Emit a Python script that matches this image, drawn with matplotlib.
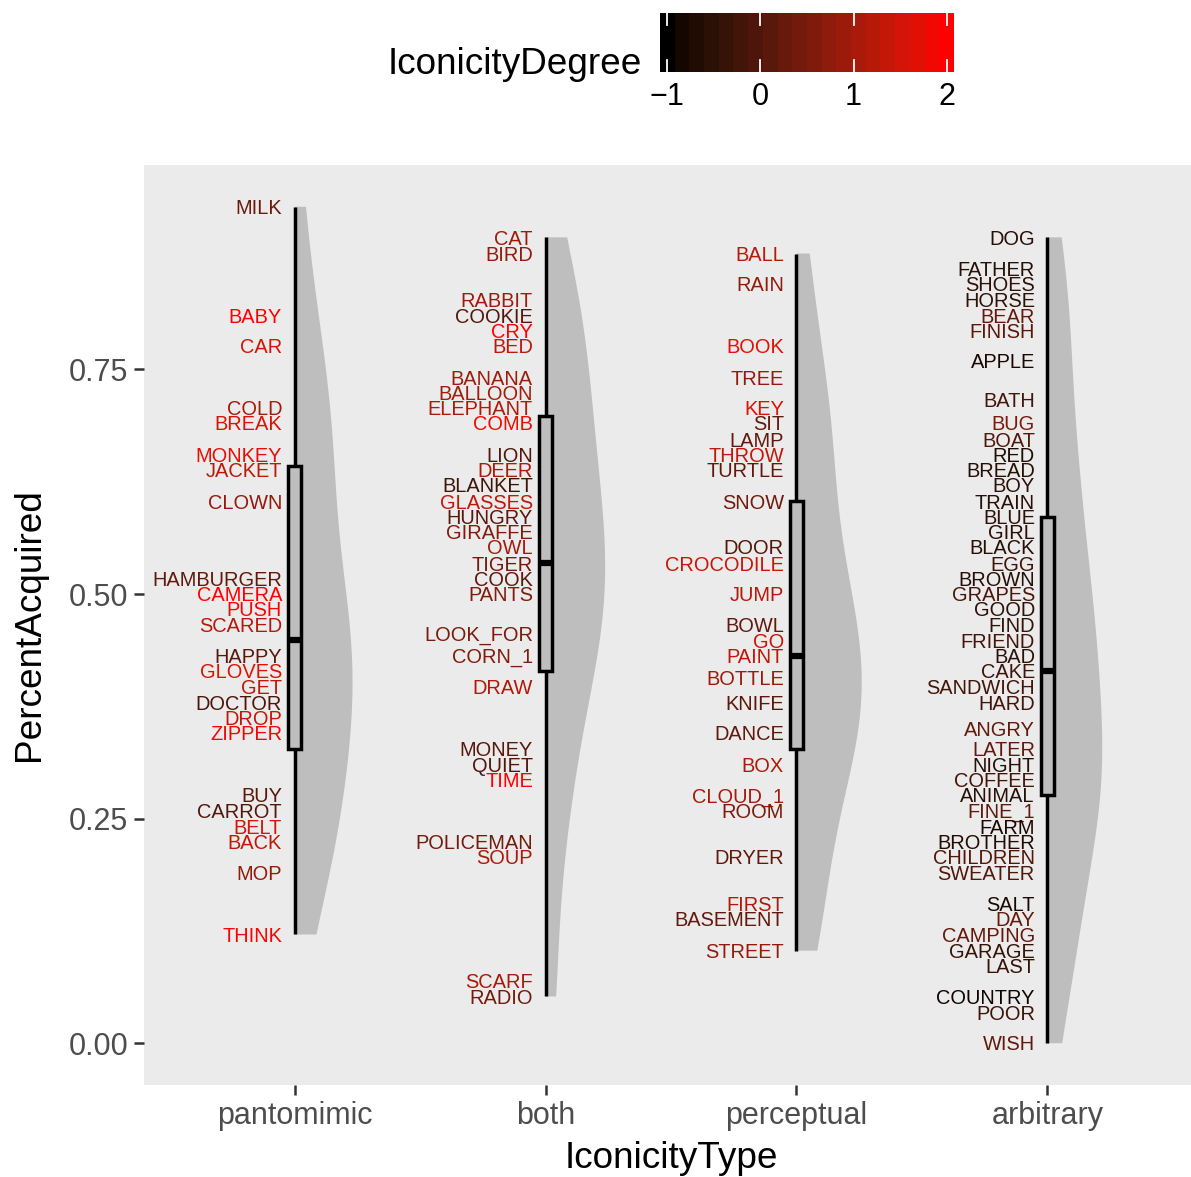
import numpy as np
import matplotlib
matplotlib.use("Agg")
import matplotlib.pyplot as plt

plt.rcParams['font.family'] = ['Liberation Sans', 'DejaVu Sans']

# ---------------- data ----------------
categories = ["pantomimic", "both", "perceptual", "arbitrary"]

pantomimic_words = ["MILK", "BABY", "CAR", "COLD", "BREAK", "MONKEY", "JACKET", "CLOWN",
                    "HAMBURGER", "CAMERA", "PUSH", "SCARED", "HAPPY", "GLOVES", "GET", "DOCTOR",
                    "DROP", "ZIPPER", "BUY", "CARROT", "BELT", "BACK", "MOP", "THINK"]
pantomimic_acquired = [0.931, 0.810, 0.776, 0.707, 0.690, 0.655, 0.638, 0.603,
                       0.517, 0.500, 0.483, 0.466, 0.431, 0.414, 0.397, 0.379,
                       0.362, 0.345, 0.276, 0.259, 0.241, 0.224, 0.190, 0.121]
pantomimic_degree = [0.3, 2.0, 1.5, 1.0, 1.6, 1.7, 1.3, 0.8,
                     0.2, 2.0, 1.9, 1.2, 0.1, 1.6, 1.3, -0.1,
                     1.4, 1.9, 0.1, 0.0, 1.5, 1.3, 0.8, 1.9]
pantomimic_hidden = []   # words whose labels are hidden by overlapping labels

both_words = ["CAT", "BIRD", "RABBIT", "COOKIE", "CRY", "BED", "BANANA", "BALLOON", "ELEPHANT",
              "COMB", "LION", "DEER", "BLANKET", "GLASSES", "HUNGRY", "GIRAFFE", "OWL", "TIGER",
              "COOK", "PANTS", "LOOK_FOR", "CORN_1", "DRAW", "MONEY", "QUIET", "TIME",
              "POLICEMAN", "SOUP", "SCARF", "RADIO"]
both_acquired = [0.897, 0.879, 0.828, 0.810, 0.793, 0.776, 0.741, 0.724, 0.707,
                 0.690, 0.655, 0.638, 0.621, 0.603, 0.586, 0.569, 0.552, 0.534,
                 0.517, 0.500, 0.456, 0.431, 0.397, 0.328, 0.310, 0.293,
                 0.224, 0.207, 0.069, 0.052]
both_degree = [0.9, 0.8, 0.9, 0.0, 2.0, 1.3, 0.9, 1.0, 1.1,
               1.8, 0.0, 1.1, -0.3, 1.3, 0.1, 0.6, 1.0, 0.4,
               0.1, 0.6, 0.5, 0.6, 1.1, 0.1, 0.0, 2.0,
               0.4, 1.1, 1.0, 0.4]
both_hidden = [0.397, 0.431, 0.448, 0.500, 0.517]

perceptual_words = ["BALL", "RAIN", "BOOK", "TREE", "KEY", "SIT", "LAMP", "THROW", "TURTLE",
                    "SNOW", "DOOR", "CROCODILE", "JUMP", "BOWL", "GO", "PAINT", "BOTTLE",
                    "KNIFE", "DANCE", "BOX", "CLOUD_1", "ROOM", "DRYER", "FIRST", "BASEMENT",
                    "STREET"]
perceptual_acquired = [0.879, 0.845, 0.776, 0.741, 0.707, 0.690, 0.672, 0.655, 0.638,
                       0.603, 0.552, 0.534, 0.500, 0.466, 0.448, 0.431, 0.407,
                       0.379, 0.345, 0.310, 0.276, 0.259, 0.207, 0.155, 0.138,
                       0.103]
perceptual_degree = [1.2, 0.8, 1.7, 0.8, 1.6, 0.2, 0.2, 1.3, 0.2,
                     0.4, 0.0, 1.4, 1.2, 0.2, 1.4, 1.3, 0.9,
                     0.1, 0.2, 1.1, 1.0, 0.5, 0.2, 1.1, 0.2,
                     0.8]
perceptual_hidden = [0.138, 0.276, 0.328, 0.345, 0.362, 0.379, 0.397, 0.414,
                     0.466, 0.500, 0.534]

arbitrary_words = ["DOG", "FATHER", "SHOES", "HORSE", "BEAR", "FINISH", "APPLE", "BATH", "BUG",
                   "BOAT", "RED", "BREAD", "BOY", "TRAIN", "BLUE", "GIRL", "BLACK", "EGG",
                   "BROWN", "GRAPES", "GOOD", "FIND", "FRIEND", "BAD", "CAKE", "SANDWICH",
                   "HARD", "ANGRY", "LATER", "NIGHT", "COFFEE", "ANIMAL", "FINE_1", "FARM",
                   "BROTHER", "CHILDREN", "SWEATER", "SALT", "DAY", "CAMPING", "GARAGE",
                   "LAST", "COUNTRY", "POOR", "WISH"]
arbitrary_acquired = [0.897, 0.862, 0.845, 0.828, 0.810, 0.793, 0.759, 0.716, 0.690,
                      0.672, 0.655, 0.638, 0.621, 0.603, 0.586, 0.569, 0.552, 0.534,
                      0.517, 0.500, 0.483, 0.466, 0.448, 0.431, 0.414, 0.397,
                      0.379, 0.350, 0.328, 0.310, 0.293, 0.276, 0.259, 0.241,
                      0.224, 0.207, 0.190, 0.155, 0.138, 0.121, 0.103,
                      0.086, 0.052, 0.034, 0.000]
arbitrary_degree = [-0.6, -0.6, -0.5, -0.5, 0.2, 0.1, -0.8, -0.2, 0.5,
                    0.0, -0.7, -0.6, -0.5, -0.6, -0.5, -0.6, -0.6, -0.3,
                    -0.6, -0.1, -0.5, -0.4, -0.2, -0.5, -0.3, -0.2,
                    -0.2, 0.2, 0.2, -0.6, -0.2, -0.6, 0.2, -0.8,
                    -0.7, 0.0, 0.0, -0.8, 0.2, 0.2, -0.4,
                    -0.4, -0.9, -0.3, 0.2]
arbitrary_hidden = [0.155, 0.276, 0.276, 0.293, 0.293, 0.310, 0.310, 0.328,
                    0.431, 0.431, 0.448, 0.466]

degree_limits = [-1, 2]
degree_breaks = [-1, 0, 1, 2]
y_breaks = [0.0, 0.25, 0.50, 0.75]
y_labels = ["0.00", "0.25", "0.50", "0.75"]

words = [pantomimic_words, both_words, perceptual_words, arbitrary_words]
acquired = [pantomimic_acquired, both_acquired, perceptual_acquired, arbitrary_acquired]
degree = [pantomimic_degree, both_degree, perceptual_degree, arbitrary_degree]
hidden = [pantomimic_hidden, both_hidden, perceptual_hidden, arbitrary_hidden]


# ---------------- colour scale (black -> red, Lab interpolation) ----------------
def _lab_to_rgb(L, a, b):
    fy = (L + 16) / 116.0
    fx = fy + a / 500.0
    fz = fy - b / 200.0
    d = 6 / 29.0

    def finv(t):
        return np.where(t > d, t ** 3, 3 * d * d * (t - 4 / 29.0))
    X = 0.95047 * finv(fx)
    Y = finv(fy)
    Z = 1.08883 * finv(fz)
    M = np.array([[3.2404542, -1.5371385, -0.4985314],
                  [-0.9692660, 1.8760108, 0.0415560],
                  [0.0556434, -0.2040259, 1.0572252]])
    lin = M @ np.array([X, Y, Z])
    lin = np.clip(lin, 0, 1)
    srgb = np.where(lin <= 0.0031308, 12.92 * lin, 1.055 * lin ** (1 / 2.4) - 0.055)
    return tuple(np.clip(srgb, 0, 1))

RED_LAB = np.array([53.2408, 80.0925, 67.2032])


def degree_color(v):
    t = (v - degree_limits[0]) / (degree_limits[1] - degree_limits[0])
    t = min(max(t, 0.0), 1.0)
    L, a, b = RED_LAB * t
    return _lab_to_rgb(L, a, b)


# ---------------- figure ----------------
W, H = 1191, 1177
fig = plt.figure(figsize=(W / 100, H / 100), dpi=100)
fig.patch.set_facecolor('white')

ax = fig.add_axes([144 / W, (H - 1085) / H, (1198 - 144) / W, (1085 - 165) / H])
ax.set_facecolor('#EBEBEB')
for s in ax.spines.values():
    s.set_visible(False)

positions = np.arange(len(categories))
all_vals = [np.array(acquired[i] + hidden[i], dtype=float) for i in range(len(categories))]


def bw_nrd0(x):
    x = np.asarray(x)
    hi = np.std(x, ddof=1)
    q75, q25 = np.percentile(x, [75, 25])
    lo = min(hi, (q75 - q25) / 1.34)
    if lo == 0:
        lo = hi or abs(x[0]) or 1
    return 0.9 * lo * len(x) ** (-0.2)


dens = []
grids = []
for vals in all_vals:
    bw = bw_nrd0(vals)
    g = np.linspace(vals.min(), vals.max(), 512)
    dd = np.exp(-0.5 * ((g[:, None] - vals[None, :]) / bw) ** 2).sum(axis=1) / (len(vals) * bw * np.sqrt(2 * np.pi))
    dens.append(dd)
    grids.append(g)
dmax = max(d.max() for d in dens)
half_width = 0.26

for pos, g, dd in zip(positions, grids, dens):
    xs = pos + half_width * dd / dmax
    poly_x = np.concatenate([[pos], xs, [pos]])
    poly_y = np.concatenate([[g[0]], g, [g[-1]]])
    ax.fill(poly_x, poly_y, color='#BEBEBE', lw=0, zorder=1)

ax.boxplot(all_vals, positions=positions, widths=0.05, whis=1.5, showfliers=False,
           showcaps=False, patch_artist=True, manage_ticks=False, zorder=2,
           boxprops=dict(facecolor='#BEBEBE', edgecolor='black', linewidth=2.5),
           medianprops=dict(color='black', linewidth=4.5, solid_capstyle='butt'),
           whiskerprops=dict(color='black', linewidth=2.5, solid_capstyle='butt'))

label_size = 14.4
cap_half = label_size * 0.716 / 2
for pos, ws, vs, ds in zip(positions, words, acquired, degree):
    for w, v, d in zip(ws, vs, ds):
        ax.annotate(w, xy=(pos - 0.05, v), xytext=(0, -cap_half), textcoords='offset points',
                    ha='right', va='baseline', fontsize=label_size, color=degree_color(d),
                    zorder=3, annotation_clip=False)

ymin = min(v.min() for v in all_vals)
ymax = max(v.max() for v in all_vals)
pad = 0.05 * (ymax - ymin)
ax.set_ylim(ymin - pad, ymax + pad)
ax.set_xlim(-0.6, len(categories) - 1 + 0.6)

ax.set_yticks(y_breaks)
ax.set_yticklabels(y_labels)
ax.set_xticks(positions)
ax.set_xticklabels(categories)
ax.tick_params(axis='both', length=7.2, width=1.8, color='#333333', labelcolor='#4D4D4D',
               labelsize=22)
ax.tick_params(axis='y', pad=4.3)
ax.tick_params(axis='x', pad=4.5)
ax.grid(False)

title_size = 26.6
fig.text(671 / W, 1 - 1168 / H, "IconicityType", ha='center', va='baseline', fontsize=title_size,
         color='black')
fig.text(30 / W, 1 - 625 / H, "PercentAcquired", ha='center', va='center', rotation=90,
         fontsize=title_size, color='black')

# ---------------- colour bar legend ----------------
nbin = 20
cb_vals = np.linspace(degree_limits[0], degree_limits[1], nbin)
step = (degree_limits[1] - degree_limits[0]) / (nbin - 1)
cb_colors = np.array([degree_color(v) for v in cb_vals])
cax = fig.add_axes([660 / W, (H - 72) / H, 294 / W, 59 / H])
cax.imshow(cb_colors[None, :, :], aspect='auto', interpolation='nearest',
           extent=(degree_limits[0] - step / 2, degree_limits[1] + step / 2, 0, 1))
for b in degree_breaks:
    cax.plot([b, b], [0, 0.2], color='white', lw=1.3)
    cax.plot([b, b], [0.8, 1], color='white', lw=1.3)
cax.set_xlim(degree_limits[0] - step / 2, degree_limits[1] + step / 2)
cax.set_ylim(0, 1)
for s in cax.spines.values():
    s.set_visible(False)
cax.set_yticks([])
cax.set_xticks(degree_breaks)
cax.set_xticklabels(["\u22121" if b < 0 else str(b) for b in degree_breaks])
cax.tick_params(axis='x', length=0, pad=7, labelsize=22, labelcolor='black')
fig.text(642 / W, 1 - 74 / H, "IconicityDegree", ha='right', va='baseline', fontsize=title_size,
         color='black')

fig.savefig("out.png", dpi=100, facecolor='white')
